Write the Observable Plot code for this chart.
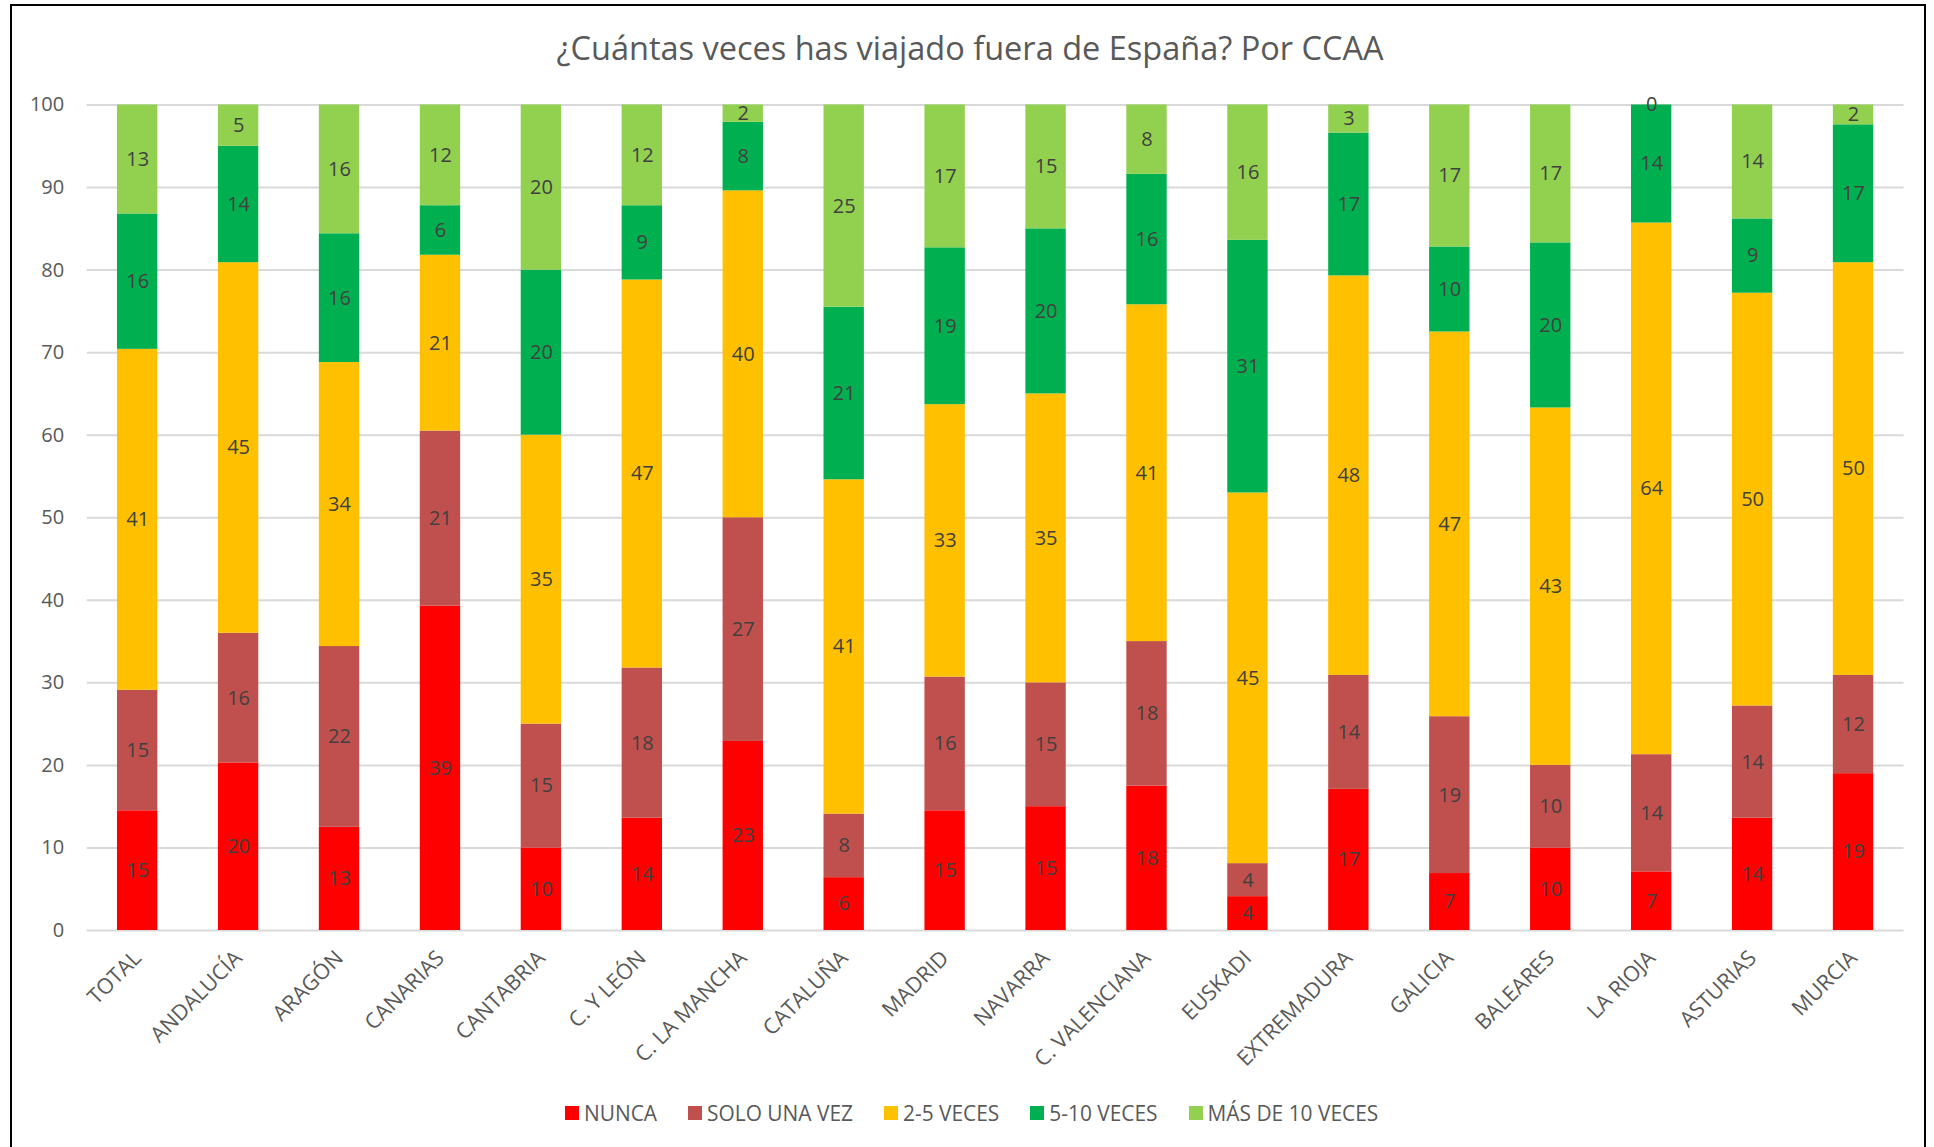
<!DOCTYPE html>
<html>
<head>
<meta charset="utf-8">
<script src="https://cdn.jsdelivr.net/npm/d3@7"></script>
<script src="https://cdn.jsdelivr.net/npm/@observablehq/plot@0.6"></script>
<style>
  html, body { margin: 0; padding: 0; background: #fff; }
  #wrap { position: relative; width: 1934px; height: 1147px; overflow: hidden; background: #fff; font-family: "Open Sans", sans-serif; }
  #frame { position: absolute; left: 10px; top: 4px; width: 1916px; height: 1200px; border: 2px solid #000; box-sizing: border-box; }
  #title { position: absolute; left: 0; width: 1934px; top: 27px; text-align: center; font-size: 32.5px; color: #595959; line-height: 42px; padding-left: 6px; box-sizing: border-box; }
  #chart { position: absolute; left: 0; top: 90px; }
  #legend { position: absolute; left: 565px; top: 1099px; display: flex; align-items: center; gap: 31px; font-size: 20.9px; color: #595959; }
  .item { display: flex; align-items: center; gap: 5px; }
  .sw { width: 14px; height: 14px; display: inline-block; }
</style>
</head>
<body>
<div id="wrap">
  <div id="frame"></div>
  <div id="title">¿Cuántas veces has viajado fuera de España? Por CCAA</div>
  <div id="chart"></div>
  <div id="legend"></div>
</div>
<script>
const regions = ["TOTAL", "ANDALUCÍA", "ARAGÓN", "CANARIAS", "CANTABRIA", "C. Y LEÓN", "C. LA MANCHA", "CATALUÑA", "MADRID", "NAVARRA", "C. VALENCIANA", "EUSKADI", "EXTREMADURA", "GALICIA", "BALEARES", "LA RIOJA", "ASTURIAS", "MURCIA"];
const series = ["NUNCA", "SOLO UNA VEZ", "2-5 VECES", "5-10 VECES", "MÁS DE 10 VECES"];
const colors = ["#FF0000", "#C0504D", "#FFC000", "#00B050", "#92D050"];

const nunca      = [14.5, 20.3, 12.5, 39.3, 10.0, 13.6, 22.9, 6.4, 14.5, 15.0, 17.5, 4.1, 17.1, 6.9, 10.0, 7.1, 13.6, 19.0];
const soloUnaVez = [14.6, 15.7, 21.9, 21.2, 15.0, 18.2, 27.1, 7.7, 16.2, 15.0, 17.5, 4.0, 13.8, 19.0, 10.0, 14.2, 13.6, 11.9];
const dosCinco   = [41.3, 44.9, 34.4, 21.3, 35.0, 47.0, 39.6, 40.5, 33.0, 35.0, 40.8, 44.9, 48.4, 46.6, 43.3, 64.4, 50.0, 50.0];
const cincoDiez  = [16.4, 14.1, 15.6, 6.0, 20.0, 9.0, 8.3, 20.9, 19.0, 20.0, 15.8, 30.6, 17.3, 10.3, 20.0, 14.3, 9.0, 16.7];
const masDiez    = [13.2, 5.0, 15.6, 12.2, 20.0, 12.2, 2.1, 24.5, 17.3, 15.0, 8.4, 16.4, 3.4, 17.2, 16.7, 0.0, 13.8, 2.4];
const yTicks = [0, 10, 20, 30, 40, 50, 60, 70, 80, 90, 100];

const seriesValues = [nunca, soloUnaVez, dosCinco, cincoDiez, masDiez];
const rows = [];
regions.forEach((r, i) => {
  series.forEach((s, j) => rows.push({region: r, serie: s, value: seriesValues[j][i]}));
});

const chart = Plot.plot({
  width: 1934,
  height: 990,
  marginTop: 14.5,
  marginBottom: 150,
  marginLeft: 86.7,
  marginRight: 30.5,
  style: {fontFamily: "'Open Sans', sans-serif", background: "transparent", overflow: "visible"},
  x: {domain: regions, paddingInner: 0.6, paddingOuter: 0.3, round: false, label: null},
  y: {domain: [0, 100], label: null},
  color: {domain: series, range: colors},
  marks: [
    Plot.ruleY(yTicks, {stroke: "#D9D9D9", strokeWidth: 2}),
    Plot.barY(rows, {x: "region", y: "value", fill: "serie"}),
    Plot.text(rows, Plot.stackY({x: "region", y: "value", text: d => String(Math.round(d.value)), fill: "#404040", fontSize: 20})),
    Plot.axisY({ticks: yTicks, tickSize: 0, tickPadding: 23, fontSize: 20, fill: "#595959", label: null}),
    Plot.axisX({tickRotate: -45, tickSize: 0, tickPadding: 24, fontSize: 21.5, fill: "#595959", label: null})
  ]
});
document.getElementById("chart").appendChild(chart);

const legend = document.getElementById("legend");
series.forEach((s, j) => {
  const it = document.createElement("div");
  it.className = "item";
  const sw = document.createElement("span");
  sw.className = "sw";
  sw.style.background = colors[j];
  const t = document.createElement("span");
  t.textContent = s;
  it.appendChild(sw);
  it.appendChild(t);
  legend.appendChild(it);
});
</script>
</body>
</html>
